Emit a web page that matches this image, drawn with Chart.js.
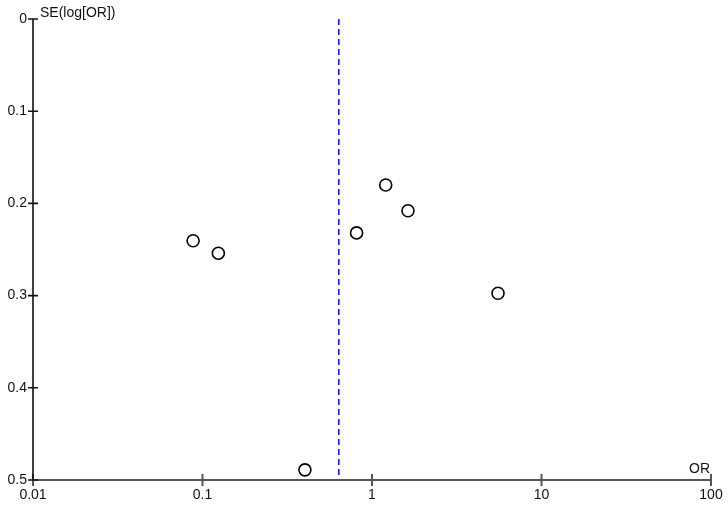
<!DOCTYPE html>
<html lang="en">
<head>
  <meta charset="UTF-8" />
  <title>Funnel plot</title>
  <script src="https://cdn.jsdelivr.net/npm/chart.js"></script>
  <style>
    html, body { margin: 0; padding: 0; background: #ffffff; }
    .wrap { width: 728px; height: 507px; }
  </style>
</head>
<body>
  <div class="wrap"><canvas id="funnel" width="728" height="507"></canvas></div>
  <script>
    // study values
    const oddsRatios = [0.088, 0.124, 0.811, 1.205, 1.63, 5.54, 0.402];
    const stdErrors = [0.2405, 0.254, 0.232, 0.180, 0.208, 0.2975, 0.489];
    const pooledOR = 0.637;
    const xTicks = [0.01, 0.1, 1, 10, 100];
    const yTicks = [0, 0.1, 0.2, 0.3, 0.4, 0.5];

    const points = oddsRatios.map((v, i) => ({ x: v, y: stdErrors[i] }));

    // axis lines with ticks crossing them, and the axis titles
    const axesPlugin = {
      id: 'axesPlugin',
      afterDraw(chart) {
        const { ctx, chartArea: a, scales: { x, y } } = chart;
        ctx.save();
        ctx.lineWidth = 2;
        ctx.strokeStyle = '#555555';
        ctx.beginPath();
        ctx.moveTo(a.left, a.bottom);
        ctx.lineTo(a.right, a.bottom);
        xTicks.forEach(v => {
          const px = x.getPixelForValue(v);
          ctx.moveTo(px, a.bottom - 6);
          ctx.lineTo(px, a.bottom + 6);
        });
        ctx.stroke();

        ctx.lineWidth = 1.6;
        ctx.strokeStyle = '#111111';
        ctx.beginPath();
        ctx.moveTo(a.left, a.top);
        ctx.lineTo(a.left, a.bottom);
        yTicks.forEach(v => {
          const py = y.getPixelForValue(v);
          ctx.moveTo(a.left - 5, py);
          ctx.lineTo(a.left + 5, py);
        });
        ctx.stroke();

        ctx.fillStyle = '#111111';
        ctx.font = '14px "Liberation Sans", Arial, sans-serif';
        ctx.textBaseline = 'alphabetic';
        ctx.textAlign = 'left';
        ctx.fillText('SE(log[OR])', a.left + 7, 17);
        ctx.textAlign = 'right';
        ctx.fillText('OR', a.right - 1, a.bottom - 7);
        ctx.restore();
      }
    };

    new Chart(document.getElementById('funnel'), {
      type: 'scatter',
      data: {
        datasets: [
          {
            label: 'Pooled OR',
            type: 'line',
            data: [{ x: pooledOR, y: 0 }, { x: pooledOR, y: 0.5 }],
            borderColor: '#1a1ae6',
            borderWidth: 1.6,
            borderDash: [6, 4],
            pointRadius: 0,
            fill: false
          },
          {
            label: 'Studies',
            data: points,
            pointRadius: 6,
            pointHoverRadius: 6,
            pointBorderWidth: 1.6,
            pointBorderColor: '#000000',
            pointBackgroundColor: '#ffffff'
          }
        ]
      },
      options: {
        responsive: false,
        animation: false,
        clip: false,
        layout: { padding: { top: 19, right: 17, left: 0, bottom: 0 } },
        plugins: { legend: { display: false }, tooltip: { enabled: false } },
        scales: {
          x: {
            type: 'logarithmic',
            min: 0.01,
            max: 100,
            afterBuildTicks: s => { s.ticks = xTicks.map(v => ({ value: v })); },
            afterFit: s => { s.height = 27; },
            grid: { display: false, drawTicks: true, tickLength: 3 },
            border: { display: false },
            ticks: {
              color: '#111111',
              font: { family: '"Liberation Sans", Arial, sans-serif', size: 14 },
              padding: 4,
              maxRotation: 0,
              autoSkip: false,
              callback: v => String(v)
            }
          },
          y: {
            type: 'linear',
            reverse: true,
            min: 0,
            max: 0.5,
            afterBuildTicks: s => { s.ticks = yTicks.map(v => ({ value: v })); },
            afterFit: s => { s.width = 33; },
            grid: { display: false, drawTicks: false, tickLength: 0 },
            border: { display: false },
            ticks: {
              color: '#111111',
              font: { family: '"Liberation Sans", Arial, sans-serif', size: 14 },
              padding: 6,
              autoSkip: false,
              callback: v => String(v)
            }
          }
        }
      },
      plugins: [axesPlugin]
    });
  </script>
</body>
</html>
